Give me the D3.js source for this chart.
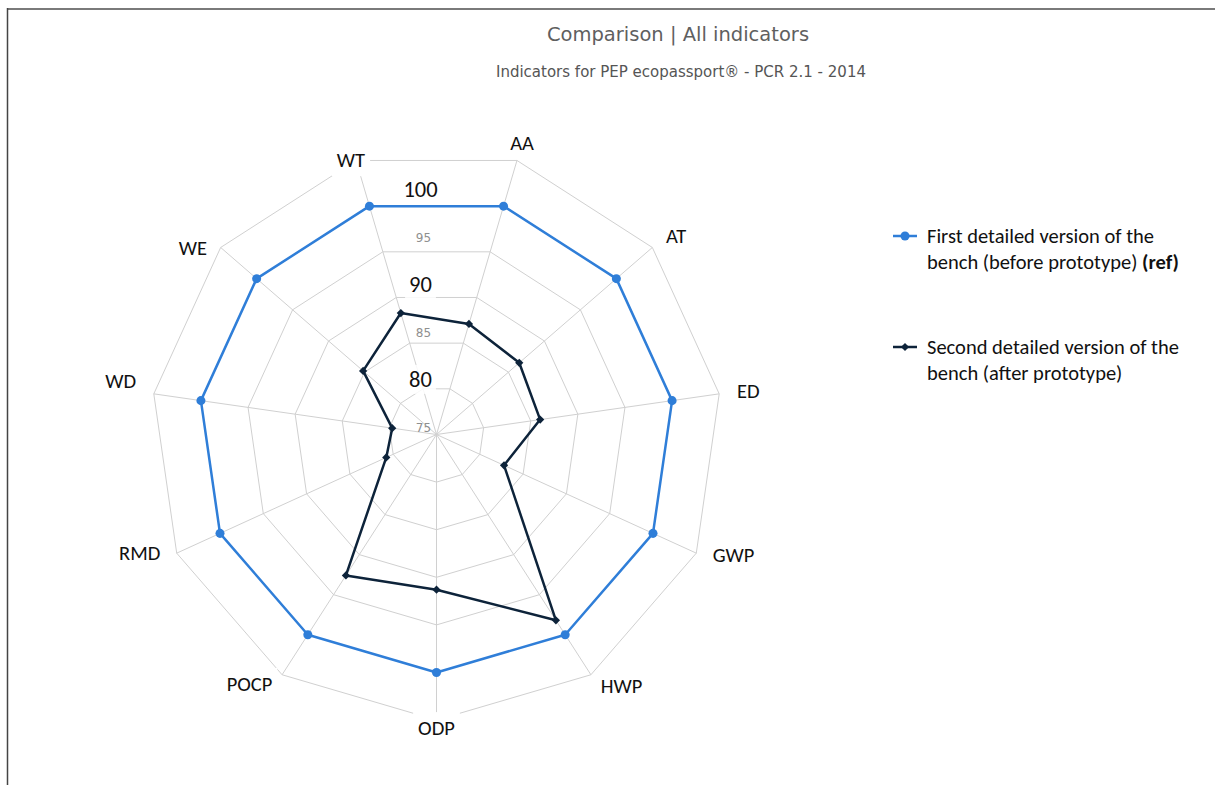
<!DOCTYPE html>
<html>
<head>
<meta charset="utf-8">
<script src="https://cdn.jsdelivr.net/npm/d3@7"></script>
<style>
  body { margin: 0; background: #fff; }
  svg { display: block; }
</style>
</head>
<body>
<svg id="chart" width="1215" height="785"></svg>
<script>
// Indicator axes, clockwise starting just right of the top
const indicators = ["AA", "AT", "ED", "GWP", "HWP", "ODP", "POCP", "RMD", "WD", "WE", "WT"];

// Scores per indicator (reference version = 100)
const firstVersion  = [100, 100, 100, 100, 100, 100, 100, 100, 100, 100, 100];
const secondVersion = [87.1, 86.5, 86.0, 82.8, 98.2, 91.3, 92.6, 80.8, 79.7, 85.2, 88.3];

// Radial axis
const radialDomain = [75, 105];
const ringValues = [80, 85, 90, 95, 100, 105];
const smallTickLabels = [75, 85, 95];
const largeTickLabels = [80, 90, 100];

const seriesNames = [
  ["First detailed version of the", "bench (before prototype)", "(ref)"],
  ["Second detailed version of the", "bench (after prototype)", ""]
];

const titleText = "Comparison | All indicators";
const subtitleText = "Indicators for PEP ecopassport\u00AE - PCR 2.1 - 2014";

const W = 1215, H = 785;
const cx = 436.5, cy = 434.5, outerR = 285.6;
const blue = "#2f7ed8", navy = "#0d233a", gridColor = "#d0d0d0";
const labelFont = "Carlito, Lato, 'Noto Sans', sans-serif";

// Hand-placed vertical nudges for a few category labels
const labelShift = { WT: 17, WE: 12, WD: -10, ODP: -10, GWP: -6, HWP: -4, POCP: -6, RMD: -8 };

const svg = d3.select("#chart");

// Page frame
svg.append("line").attr("x1", 7).attr("x2", W).attr("y1", 9).attr("y2", 9)
  .attr("stroke", "#7a7a7a").attr("stroke-width", 2);
svg.append("line").attr("x1", 7.5).attr("x2", 7.5).attr("y1", 8).attr("y2", H)
  .attr("stroke", "#444").attr("stroke-width", 1.5);

// Titles
svg.append("text").attr("x", 678).attr("y", 34).attr("text-anchor", "middle")
  .attr("dominant-baseline", "central")
  .style("font-family", "'DejaVu Sans', sans-serif").style("font-size", "19.5px")
  .attr("fill", "#5f5f5f").text(titleText);
svg.append("text").attr("x", 681).attr("y", 72).attr("text-anchor", "middle")
  .attr("dominant-baseline", "central")
  .style("font-family", "'DejaVu Sans', sans-serif").style("font-size", "15px")
  .attr("fill", "#555").text(subtitleText);

// Scales
const r = d3.scaleLinear().domain(radialDomain).range([0, outerR]);
const step = 2 * Math.PI / indicators.length;
const startAngle = Math.PI - 5 * step; // ODP points straight down
const angle = d3.scaleLinear().domain([0, indicators.length]).range([startAngle, startAngle + 2 * Math.PI]);

const polar = (a, rad) => [rad * Math.sin(a), -rad * Math.cos(a)];

const g = svg.append("g").attr("transform", `translate(${cx},${cy})`);

// Polygon grid rings
const ringLine = d3.lineRadial()
  .angle((d, i) => angle(i))
  .radius(d => r(d))
  .curve(d3.curveLinearClosed);

g.append("g").selectAll("path").data(ringValues).join("path")
  .attr("d", v => ringLine(indicators.map(() => v)))
  .attr("fill", "none").attr("stroke", gridColor).attr("stroke-width", 1);

// Spokes
g.append("g").selectAll("line").data(indicators).join("line")
  .attr("x1", 0).attr("y1", 0)
  .attr("x2", (d, i) => polar(angle(i), r(radialDomain[1]))[0])
  .attr("y2", (d, i) => polar(angle(i), r(radialDomain[1]))[1])
  .attr("stroke", gridColor).attr("stroke-width", 1);

// Axis category labels with white backing boxes
const labelLayer = g.append("g");
indicators.forEach((name, i) => {
  const a = angle(i);
  const deg = ((a * 180 / Math.PI) % 360 + 360) % 360;
  const [px, py] = polar(a, r(radialDomain[1]) + 18);
  let anchor = "middle";
  if (deg > 20 && deg < 160) anchor = "start";
  else if (deg > 200 && deg < 340) anchor = "end";
  const t = labelLayer.append("text")
    .attr("x", px).attr("y", py + (labelShift[name] || 0))
    .attr("text-anchor", anchor).attr("dominant-baseline", "central")
    .style("font-family", labelFont).style("font-size", "20.5px")
    .attr("fill", "#111").text(name);
  const bb = t.node().getBBox();
  labelLayer.insert("rect", "text")
    .attr("x", bb.x - 5).attr("y", bb.y - 3)
    .attr("width", bb.width + 10).attr("height", bb.height + 6)
    .attr("fill", "#fff");
});

// Radial value labels
const tickLayer = g.append("g");
smallTickLabels.forEach(v => {
  tickLayer.append("text")
    .attr("x", -13).attr("y", -r(v) - 6.5)
    .attr("text-anchor", "middle").attr("dominant-baseline", "central")
    .style("font-family", "'DejaVu Sans', sans-serif").style("font-size", "12px")
    .attr("fill", "#8f8f8f").text(v);
});
largeTickLabels.forEach(v => {
  const t = tickLayer.append("text")
    .attr("x", -16).attr("y", -r(v) - 7.5)
    .attr("text-anchor", "middle").attr("dominant-baseline", "central")
    .style("font-family", labelFont).style("font-size", "22.5px")
    .attr("fill", "#111").text(v);
  const bb = t.node().getBBox();
  tickLayer.insert("rect", "text")
    .attr("x", bb.x - 4).attr("y", bb.y - 1)
    .attr("width", bb.width + 8).attr("height", bb.height + 2)
    .attr("fill", "#fff").attr("opacity", 0.85);
});

// Series
const seriesLine = d3.lineRadial()
  .angle((d, i) => angle(i))
  .radius(d => r(d))
  .curve(d3.curveLinearClosed);

const circleSym = d3.symbol(d3.symbolCircle, 64);
const diamondSym = d3.symbol(d3.symbolSquare, 34);

const series = [
  { values: firstVersion, color: blue, sym: circleSym, rot: 0 },
  { values: secondVersion, color: navy, sym: diamondSym, rot: 45 }
];

series.forEach(s => {
  g.append("path").attr("d", seriesLine(s.values))
    .attr("fill", "none").attr("stroke", s.color).attr("stroke-width", 2.5)
    .attr("stroke-linejoin", "round");
  g.append("g").selectAll("path").data(s.values).join("path")
    .attr("d", s.sym())
    .attr("transform", (d, i) => {
      const [x, y] = polar(angle(i), r(d));
      return `translate(${x},${y}) rotate(${s.rot})`;
    })
    .attr("fill", s.color);
});

// Legend
const legend = svg.append("g");
const legendY = [236, 347];
series.forEach((s, k) => {
  const y = legendY[k];
  legend.append("line").attr("x1", 893).attr("x2", 917).attr("y1", y).attr("y2", y)
    .attr("stroke", s.color).attr("stroke-width", 2.5);
  legend.append("path").attr("d", s.sym())
    .attr("transform", `translate(905,${y}) rotate(${s.rot})`).attr("fill", s.color);
  const [l1, l2, bold] = seriesNames[k];
  legend.append("text").attr("x", 927).attr("y", y).attr("dominant-baseline", "central")
    .style("font-family", labelFont).style("font-size", "20.5px").attr("fill", "#111").text(l1);
  const t2 = legend.append("text").attr("x", 927).attr("y", y + 26).attr("dominant-baseline", "central")
    .style("font-family", labelFont).style("font-size", "20.5px").attr("fill", "#111");
  t2.append("tspan").text(l2);
  if (bold) t2.append("tspan").attr("font-weight", "bold").text(" " + bold);
});
</script>
</body>
</html>
